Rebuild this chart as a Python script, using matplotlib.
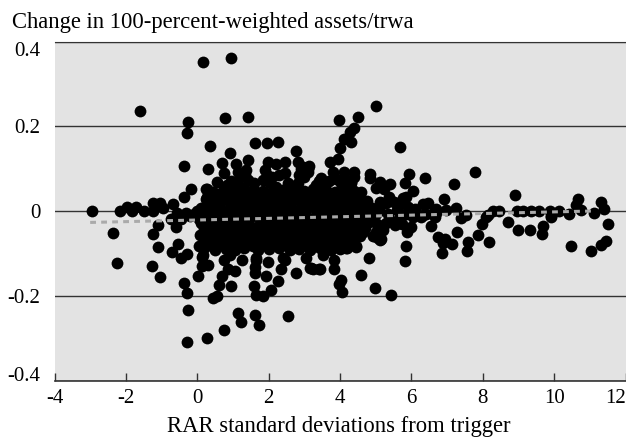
# scatter of change in 100-percent-weighted assets against RAR distance from trigger
import matplotlib
matplotlib.use("Agg")
import matplotlib.pyplot as plt

plt.rcParams['font.family'] = ['Liberation Serif', 'DejaVu Serif']

edge_x = [-2.95,-2.17,-1.97,-1.73,-1.83,-1.5,-1.25,-1.05,-1.24,-0.68,-0.96,-1.6,0.17,0.94,-0.26,-0.29,0.78,1.43,
          0.36,1.63,1.95,2.27,2.77,0.92,-0.37,0.29,0.68,1.08,1.41,0.74,-0.18,-0.37,0.54,0.26,1.97,1.89,2.45,2.22,
          2.81,3.1,2.96,2.45,5.0,4.5,3.96,4.4,4.29,4.1,4.3,3.99,5.69,3.94,3.73,3.8,4.12,4.4,4.38,4.31,4.84,4.84,
          5.12,5.4,5.0,5.24,5.38,5.92,5.83,6.39,6.04,5.85,7.19,7.77,6.92,8.89,10.66,10.61,11.31,11.4,11.13,10.43,
          10.75,9.88,10.15,9.9,8.96,9.12,9.35,9.58,8.28,8.46,8.09,7.53,7.25,6.46,6.32,6.69,5.15,5.66,8.72,9.0,
          9.31,9.69,9.65,9.92,10.48,11.04,11.32,11.44,11.5,7.98,7.87,8.18,7.59,7.56,7.29,6.87,7.14,6.76,6.95,6.89,
          6.56,5.86,5.81,5.88,6.0,5.16,5.16,6.28,6.65,7.4,8.15,4.8,4.6,4.98,5.44,4.05,3.96,4.03,3.82,3.82,3.42,
          3.24,4.96,5.13,5.2,4.45,-2.36,-2.25,-1.24,-1.1,-1.09,-0.6,-0.55,-0.72,-0.46,-0.29,-1.28,-1.05,-0.37,
          -0.29,-0.26,-0.29,0.26,0.76,1.13,1.22,1.61,1.72,2.55,0.44,0.54,0.94,0.61,1.58,1.66,1.84,2.08,2.26,1.94,
          1.97,2.36,2.78,3.15,0.02,0.12,0.3,0.07,0.05,0.16,0.68,0.86,1.05,1.61,1.66,3.04,-0.74,-0.58,-0.32,-0.07,
          0.24,0.27,1.14,1.36,1.42,2.54,2.92,3.12,3.1,2.82,3.48,3.34,4.32,4.6,5.11,4.04,1.84,2.03,2.22,1.1,0.82,
          0.12,3.2,3.43,4.46,5.06,4.93,4.18,3.52,2.45,5.77,6.98,6.65,6.33,5.67,5.39,5.53,5.2,5.9,6.04,
          1.2,1.35,1.95,2.1,2.3,2.85,3.0,3.4,3.5,3.7,3.9,4.1,4.25,1.6,0.95,
          0.91,1.24,1.66,1.61,2.4,0.75,-0.5,-0.2,-0.45]
edge_y = [0.0,0.0,0.009,0.01,0.0,0.0,0.02,0.018,0.0,0.017,0.006,0.236,0.351,0.36,0.21,0.185,0.22,0.221,
          0.154,0.16,0.16,0.163,0.142,0.137,0.107,0.1,0.114,0.11,0.12,0.089,0.053,0.033,0.069,0.053,0.115,0.097,0.116,0.11,
          0.115,0.1,0.104,0.09,0.248,0.222,0.214,0.196,0.186,0.171,0.164,0.149,0.151,0.122,0.116,0.091,0.091,0.093,0.081,0.068,0.087,0.077,
          0.068,0.063,0.055,0.051,0.034,0.087,0.067,0.077,0.048,0.034,0.063,0.093,0.028,0.037,0.028,0.014,0.022,0.004,-0.005,-0.008,
          0.002,0.0,0.0,-0.012,0.0,0.0,0.0,0.0,0.0,0.0,-0.013,-0.009,0.006,0.02,0.016,0.004,0.02,0.018,-0.025,-0.045,
          -0.046,-0.035,-0.054,-0.013,-0.082,-0.094,-0.08,-0.071,-0.031,-0.031,-0.057,-0.072,-0.072,-0.094,-0.05,-0.098,-0.078,-0.062,-0.066,-0.076,
          -0.035,-0.083,-0.117,-0.049,-0.037,-0.045,-0.067,-0.013,-0.013,-0.017,-0.009,-0.111,-0.15,-0.182,-0.199,-0.191,-0.172,-0.163,-0.138,-0.116,-0.137,
          -0.137,-0.06,-0.068,-0.044,-0.083,-0.053,-0.122,-0.054,-0.034,-0.084,-0.038,-0.078,-0.097,-0.112,-0.101,-0.13,-0.156,-0.17,
          -0.193,-0.233,-0.31,-0.3,-0.28,-0.24,-0.263,-0.246,-0.269,-0.248,-0.205,-0.201,-0.178,-0.174,-0.178,-0.199,-0.2,-0.186,-0.166,-0.154,
          -0.121,-0.137,-0.146,-0.134,-0.154,-0.13,-0.127,-0.056,-0.083,-0.103,-0.154,-0.138,-0.142,-0.146,-0.115,-0.111,-0.019,-0.005,-0.005,-0.007,
          0.053,0.034,0.093,0.097,0.073,0.065,0.1,0.107,0.093,0.065,0.077,0.061,0.065,0.046,0.022,0.065,0.073,0.065,0.057,0.065,0.061,
          -0.108,-0.135,-0.137,-0.084,-0.064,-0.06,-0.088,-0.104,-0.115,0.03,0.002,0.002,-0.009,-0.013,-0.021,-0.028,0.018,0.01,-0.013,
          0.08,0.085,0.085,0.08,0.085,0.085,0.08,0.07,0.065,0.07,0.075,0.075,0.06,0.065,0.07,
          -0.104,-0.116,-0.111,-0.131,-0.111,-0.115,-0.012,-0.012,-0.02]

# the solid middle of the cloud, row by row
core_x = [0.45,0.75,1.0,1.3,1.6,1.85,2.15,2.4,2.7,3.0,3.25,3.6,3.85,4.15,4.4,
          0.6,0.9,1.15,1.45,1.75,2.0,2.3,2.55,2.85,3.15,3.45,3.75,4.0,4.3,
          0.25,0.5,0.8,1.05,1.35,1.6,1.9,2.2,2.45,2.75,3.05,3.3,3.6,3.9,4.2,4.5,4.75,
          0.35,0.65,0.95,1.2,1.5,1.75,2.05,2.35,2.6,2.9,3.2,3.45,3.75,4.05,4.35,4.65,
          0.1,0.4,0.65,0.95,1.2,1.5,1.75,2.05,2.3,2.6,2.9,3.15,3.45,3.7,4.0,4.3,4.6,4.9,
          0.0,0.25,0.55,0.85,1.1,1.35,1.65,1.95,2.2,2.5,2.8,3.05,3.35,3.6,3.9,4.2,4.5,4.8,5.1,
          -0.1,0.2,0.5,0.75,1.05,1.3,1.6,1.9,2.15,2.45,2.7,3.0,3.3,3.55,3.85,4.15,4.45,4.7,5.0,
          0.05,0.35,0.6,0.9,1.15,1.45,1.75,2.05,2.3,2.6,2.85,3.15,3.45,3.7,4.0,4.3,4.6,4.85,
          0.1,0.35,0.65,0.9,1.2,1.45,1.75,2.0,2.3,2.55,2.85,3.1,3.4,3.7,3.95,4.25,4.55,4.8,
          0.2,0.5,0.8,1.05,1.3,1.6,1.9,2.15,2.45,2.7,3.0,3.25,3.55,3.85,4.15,4.4,4.7,
          0.2,0.5,0.75,1.05,1.3,1.6,1.85,2.15,2.4,2.7,3.0,3.25,3.55,3.8,4.1,4.4,4.65,
          0.35,0.65,0.95,1.2,1.5,1.8,2.05,2.35,2.65,2.9,3.2,3.45,3.75,4.05,4.3,4.55,
          0.25,0.55,0.85,1.1,1.4,1.65,1.95,2.25,2.5,2.8,3.05,3.35,3.6,3.9,4.2,4.35,
          0.35,0.65,0.95,1.25,1.55,1.85,2.15,2.45,2.7,3.0,3.3,3.6,3.85,4.1,
          0.2,0.5,0.8,1.05,1.3,1.7,2.0,2.3,2.6,2.85,3.15,3.45,3.75,4.0,4.2,
          5.1,5.35,5.6,5.85,6.1,6.4,6.7,5.3,5.5,5.75,5.05,5.3,5.55,5.75,5.0]
core_y = [0.046,0.052,0.048,0.055,0.05,0.047,0.053,0.049,0.054,0.048,0.052,0.05,0.046,0.053,0.047,
          0.04,0.038,0.042,0.039,0.041,0.04,0.043,0.038,0.041,0.04,0.042,0.039,0.041,0.038,
          0.028,0.033,0.029,0.031,0.027,0.034,0.03,0.026,0.032,0.029,0.033,0.028,0.031,0.027,0.03,0.032,0.024,
          0.02,0.018,0.021,0.019,0.022,0.02,0.018,0.021,0.019,0.02,0.022,0.018,0.02,0.021,0.019,0.018,
          0.006,0.012,0.008,0.011,0.007,0.013,0.009,0.01,0.006,0.012,0.008,0.011,0.007,0.013,0.009,0.01,0.012,0.006,
          0.0,-0.002,0.001,0.0,-0.001,0.002,0.0,-0.002,0.001,0.0,-0.001,0.002,0.0,-0.002,0.001,0.0,-0.001,0.002,0.0,
          -0.008,-0.012,-0.009,-0.011,-0.007,-0.013,-0.01,-0.008,-0.012,-0.009,-0.011,-0.007,-0.013,-0.01,-0.008,-0.012,-0.009,-0.011,-0.007,
          -0.02,-0.018,-0.021,-0.019,-0.022,-0.02,-0.018,-0.021,-0.019,-0.02,-0.022,-0.018,-0.02,-0.021,-0.019,-0.018,-0.02,-0.021,
          -0.028,-0.032,-0.029,-0.031,-0.027,-0.033,-0.03,-0.028,-0.032,-0.029,-0.031,-0.027,-0.033,-0.03,-0.028,-0.032,-0.029,-0.026,
          -0.04,-0.038,-0.041,-0.039,-0.042,-0.04,-0.038,-0.041,-0.039,-0.04,-0.042,-0.038,-0.04,-0.041,-0.039,-0.038,-0.04,
          -0.048,-0.052,-0.049,-0.051,-0.047,-0.053,-0.05,-0.048,-0.052,-0.049,-0.051,-0.047,-0.053,-0.05,-0.048,-0.052,-0.049,
          -0.06,-0.058,-0.061,-0.059,-0.062,-0.06,-0.058,-0.061,-0.059,-0.06,-0.062,-0.058,-0.06,-0.061,-0.059,-0.058,
          -0.068,-0.072,-0.069,-0.071,-0.067,-0.073,-0.07,-0.068,-0.072,-0.069,-0.071,-0.067,-0.073,-0.07,-0.068,-0.072,
          -0.08,-0.078,-0.081,-0.079,-0.082,-0.08,-0.078,-0.081,-0.079,-0.08,-0.082,-0.078,-0.08,-0.081,
          -0.088,-0.092,-0.089,-0.091,-0.087,-0.093,-0.09,-0.088,-0.092,-0.089,-0.091,-0.087,-0.093,-0.09,-0.088,
          0.005,-0.006,0.003,-0.008,0.004,-0.007,-0.004,0.02,0.022,0.018,-0.03,-0.028,-0.032,-0.03,-0.05]

# fitted line
trend_x = [-3.0, 11.1]
trend_y = [-0.027, 0.0]

xtick_vals = [-4, -2, 0, 2, 4, 6, 8, 10, 12]
ytick_vals = [0.4, 0.2, 0, -0.2, -0.4]
ytick_labels = ['0.4', '0.2', '0', '-0.2', '-0.4']

fig = plt.figure(figsize=(6.26, 4.37), dpi=100)
ax = fig.add_axes([54.5/626, 1 - 380.5/437, 571/626, 339/437])
ax.set_facecolor('#e3e3e3')
ax.set_xlim(-4, 12)
ax.set_ylim(-0.4, 0.4)

# horizontal rules sit under the dots
ax.yaxis.grid(True, color='#333333', lw=1.0)
ax.set_axisbelow(True)
for side in ['left', 'right']:
    ax.spines[side].set_visible(False)
ax.spines['top'].set_color('#333333')
ax.spines['bottom'].set_color('#333333')
ax.spines['bottom'].set_linewidth(1.2)

ax.plot(edge_x, edge_y, 'o', color='black', ms=8.5, mew=0, clip_on=False)
ax.plot(core_x, core_y, 'o', color='black', ms=8.5, mew=0)
ax.plot(trend_x, trend_y, color='#aaaaaa', lw=2.2, dashes=(1.9, 1.7))

ax.set_xticks(xtick_vals)
ax.set_xticklabels([str(v) for v in xtick_vals])
ax.set_yticks(ytick_vals)
ax.set_yticklabels(ytick_labels)
ax.tick_params(axis='x', direction='in', length=6, width=1, color='#333333', labelsize=15, pad=6)
ax.tick_params(axis='y', length=0, labelsize=15, pad=10)

# end labels are pulled inside the plot box, as in the original
ax.get_xticklabels()[-1].set_ha('right')
ax.get_yticklabels()[0].set_va('top')
ax.get_yticklabels()[-1].set_va('baseline')

fig.text(12/626, 1 - 28/437, 'Change in 100-percent-weighted assets/trwa', fontsize=16.3, ha='left', va='baseline')
fig.text(339/626, 1 - 432/437, 'RAR standard deviations from trigger', fontsize=16.3, ha='center', va='baseline')

fig.savefig('out.png', dpi=100)
